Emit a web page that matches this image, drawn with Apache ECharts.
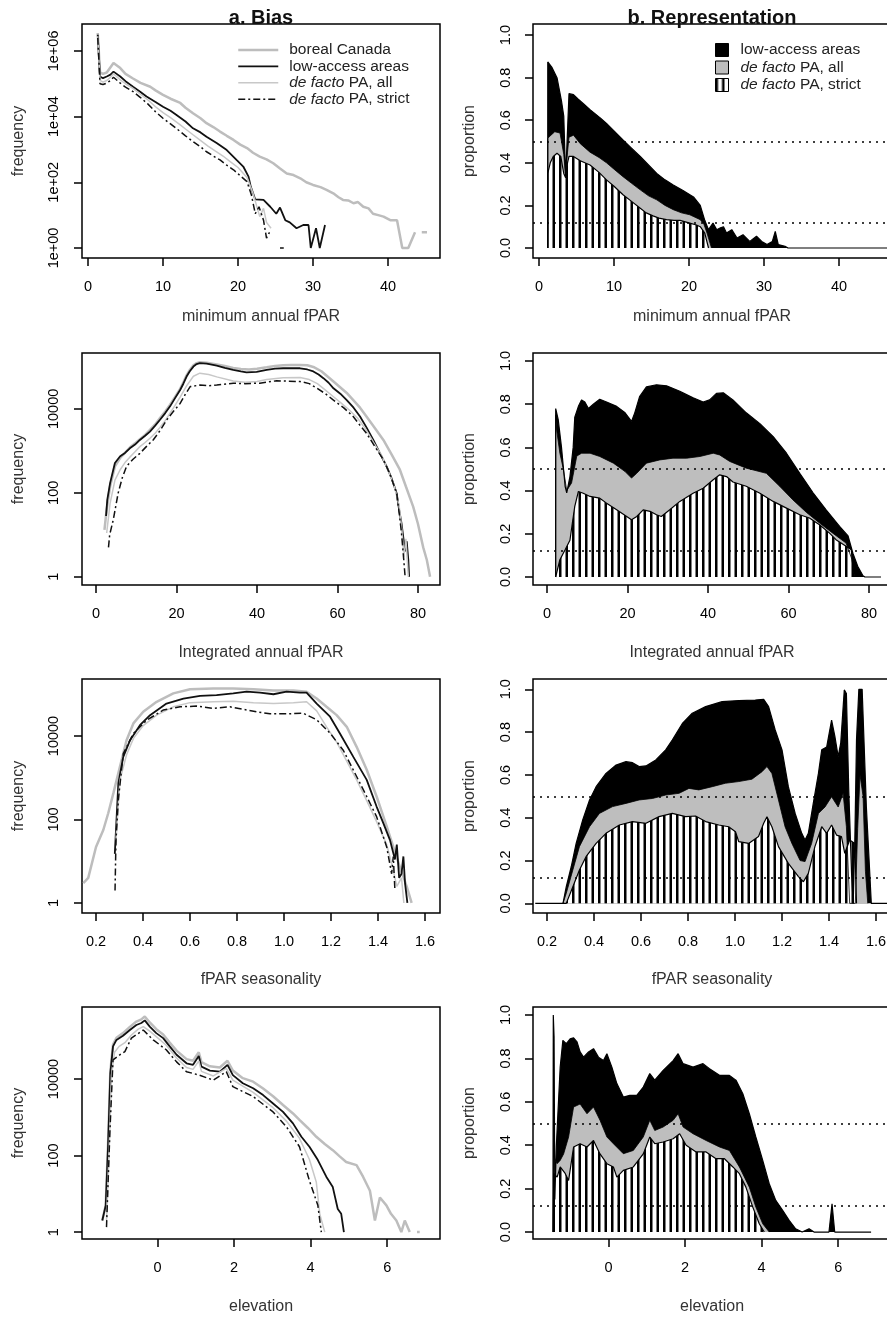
<!DOCTYPE html>
<html><head><meta charset="utf-8">
<script src="https://cdn.jsdelivr.net/npm/echarts@6/dist/echarts.min.js"></script>
<style>html,body{margin:0;padding:0;background:#fff}#chart{width:887px;height:1317px}</style>
</head><body><div id="chart"></div>
<script>
// ---------------- text ----------------
const seriesNames = ['boreal Canada', 'low-access areas', 'de facto PA, all', 'de facto PA, strict'];
const columnTitles = ['a. Bias', 'b. Representation'];
const xTitles = ['minimum annual fPAR', 'Integrated annual fPAR', 'fPAR seasonality', 'elevation'];
const freqTitle = 'frequency';
const propTitle = 'proportion';

// ---------------- tick values ----------------
const xTicksMin = [0, 10, 20, 30, 40];
const xTicksInt = [0, 20, 40, 60, 80];
const xTicksSeas = [0.2, 0.4, 0.6, 0.8, 1.0, 1.2, 1.4, 1.6];
const xTicksElev = [0, 2, 4, 6];
const freqTicksMin = [1, 100, 1e4, 1e6];
const freqTicks = [1, 100, 1e4];
const propTicks = [0, 0.2, 0.4, 0.6, 0.8, 1.0];
const refLevels = [0.5, 0.12];

// ---------------- a. frequencies (minimum annual fPAR) ----------------
const minFparBoreal = [[1.3,3.5e6],[1.6,2.2e5],[2.0,2.0e5],[2.5,2.2e5],[3.0,3.2e5],[3.4,4.3e5],[4.3,3.0e5],[5.0,2.0e5],[6.0,1.45e5],[7.0,1.07e5],[8.3,8.1e4],[9.0,6.3e4],[10.0,4.6e4],[11.0,3.5e4],[12.3,2.6e4],[13.0,1.86e4],[14.0,1.26e4],[15.0,8.9e3],[15.8,6.3e3],[16.7,4.8e3],[17.6,3.5e3],[18.5,2.6e3],[19.4,1.95e3],[20.3,1.4e3],[21.2,1.1e3],[22.0,794],[22.9,603],[23.8,501],[24.7,380],[25.6,263],[26.5,186],[27.4,166],[28.3,132],[29.1,100],[30.0,83],[31.0,71],[31.8,59],[32.7,46],[33.4,35],[34.0,29],[34.7,28],[35.4,23],[36.0,25],[36.7,18],[37.4,16],[38.0,11],[38.7,10],[39.4,9],[40.3,7],[41.2,7],[41.9,1],[42.7,1],[43.6,3],[44.0,null],[44.5,3],[45.2,3]];
const minFparLow = [[1.3,3.1e6],[1.6,1.66e5],[2.0,1.48e5],[2.5,1.66e5],[3.0,1.9e5],[3.4,2.34e5],[4.3,1.66e5],[5.0,1.2e5],[6.0,8.1e4],[7.0,5.6e4],[7.8,4.1e4],[9.0,2.8e4],[10.0,2.0e4],[11.0,1.5e4],[11.8,1.12e4],[13.0,7.1e3],[14.0,4.4e3],[15.0,3.3e3],[15.8,2.45e3],[17.2,1.55e3],[18.5,955],[19.8,479],[20.7,302],[21.4,148],[21.7,74],[22.3,30],[23.4,29],[24.3,18],[25.1,11],[25.6,17],[26.3,7],[26.9,6],[27.8,4],[28.7,5],[29.4,5],[29.7,1],[30.4,4],[30.9,1],[31.6,5]];
const minFparPaAll = [[1.3,2.8e6],[1.6,1.26e5],[2.0,1.12e5],[2.5,1.26e5],[3.0,1.58e5],[3.4,2.0e5],[4.3,1.32e5],[5.0,1.0e5],[6.0,7.2e4],[7.0,4.8e4],[8.0,3.2e4],[9.0,2.0e4],[10.0,1.32e4],[11.0,9.3e3],[12.3,5.6e3],[13.0,4.2e3],[14.0,2.8e3],[14.9,1.95e3],[16.0,1.26e3],[17.0,891],[18.0,631],[19.0,417],[20.0,282],[21.2,141],[22.0,46],[22.9,9],[23.4,16],[23.8,6],[24.4,4]];
const minFparStrict = [[1.3,2.5e6],[1.6,1.0e5],[2.0,9.5e4],[2.5,1.05e5],[3.0,1.26e5],[3.4,1.58e5],[4.3,1.05e5],[5.0,7.9e4],[6.0,5.8e4],[7.0,3.8e4],[8.0,2.4e4],[9.0,1.41e4],[10.0,8.9e3],[11.0,6.0e3],[12.3,3.5e3],[13.0,2.6e3],[14.0,1.74e3],[15.0,1.2e3],[15.8,851],[16.7,631],[17.6,479],[18.5,331],[19.4,240],[20.3,158],[21.2,105],[21.8,40],[22.3,11],[22.8,18],[23.4,7],[23.8,2],[24.2,3],[24.6,null],[25.6,1],[26.1,1]];

// ---------------- b. proportions (minimum annual fPAR) ----------------
const minFparShareLow = [[1.16,0],[1.17,0.874],[1.7,0.85],[2.4,0.80],[3.0,0.69],[3.3,0.62],[3.55,0.33],[3.8,0.55],[4.0,0.725],[4.6,0.72],[5.2,0.70],[6.0,0.675],[6.8,0.65],[7.5,0.63],[8.2,0.61],[9.0,0.585],[10.0,0.55],[11.2,0.507],[12.3,0.47],[13.5,0.43],[14.6,0.39],[15.7,0.35],[16.8,0.32],[17.9,0.296],[19.2,0.27],[20.6,0.24],[21.5,0.20],[22.1,0.13],[22.6,0.086],[23.2,0.117],[23.7,0.086],[24.2,0.095],[24.6,0.10],[25.0,0.07],[25.7,0.086],[26.4,0.047],[27.2,0.062],[28.1,0.031],[29.0,0.055],[29.7,0.031],[30.4,0.016],[31.1,0.03],[31.5,0.078],[31.9,0.016],[32.8,0.008],[33.2,0],[47,0]];
const minFparShareAll = [[1.16,0],[1.17,0.515],[1.6,0.53],[2.1,0.546],[2.8,0.54],[3.3,0.44],[3.55,0.335],[3.8,0.45],[4.0,0.52],[4.6,0.53],[5.5,0.49],[6.8,0.45],[8.0,0.425],[9.0,0.40],[10.0,0.37],[11.2,0.335],[12.3,0.305],[13.5,0.273],[14.6,0.245],[15.7,0.226],[16.8,0.20],[17.9,0.18],[19.0,0.165],[20.1,0.156],[21.5,0.133],[22.0,0.11],[22.4,0.07],[23.0,0]];
const minFparShareStrict = [[1.16,0],[1.17,0.35],[1.5,0.40],[1.9,0.43],[2.4,0.445],[2.9,0.43],[3.3,0.35],[3.55,0.33],[3.8,0.40],[4.0,0.43],[4.6,0.43],[5.5,0.41],[6.8,0.39],[8.0,0.355],[9.0,0.32],[10.0,0.29],[11.2,0.25],[12.3,0.22],[13.5,0.187],[14.3,0.165],[15.2,0.151],[16.0,0.14],[17.0,0.133],[18.0,0.13],[18.8,0.13],[20.1,0.117],[21.0,0.108],[21.5,0.10],[22.1,0.07],[22.6,0]];

// ---------------- a. frequencies (integrated annual fPAR) ----------------
const intFparBoreal = [[2.1,13],[2.65,40],[3.5,141],[4.7,427],[6.0,676],[7.2,891],[8.4,1200],[9.7,1510],[10.9,1905],[12.2,2400],[13.4,3160],[14.7,4270],[15.9,6030],[17.2,8710],[18.4,1.26e4],[19.6,1.9e4],[20.9,3.0e4],[21.7,4.3e4],[22.5,6.3e4],[23.3,8.5e4],[24.2,1.1e5],[25.0,1.23e5],[25.8,1.29e5],[27.5,1.26e5],[30,1.15e5],[32,1.05e5],[34.1,9.5e4],[36,8.9e4],[38,8.7e4],[40,9.1e4],[42.4,9.8e4],[44.5,1.05e5],[46.5,1.1e5],[48.5,1.12e5],[50.7,1.12e5],[52.5,1.1e5],[54,1.0e5],[56,7.9e4],[59,4.5e4],[62.3,2.4e4],[65.6,1.07e4],[67.2,6600],[69,3800],[71.4,1820],[73.5,800],[75.5,355],[77,141],[78.8,47],[80,18],[81.3,5],[82.2,2.5],[83,1]];
const intFparLow = [[2.5,28],[2.8,68],[3.5,170],[4.7,513],[6.0,741],[7.2,891],[8.4,1150],[9.7,1410],[10.9,1820],[12.2,2290],[13.4,2880],[14.7,3980],[15.9,5500],[17.2,7940],[18.4,1.15e4],[19.6,1.78e4],[20.9,2.82e4],[21.7,3.98e4],[22.5,5.9e4],[23.3,7.9e4],[24.2,1.02e5],[25.0,1.17e5],[25.8,1.23e5],[27.5,1.2e5],[30,1.07e5],[32,9.5e4],[34.1,8.5e4],[36,7.8e4],[37.4,7.4e4],[39.9,7.6e4],[42.4,8.5e4],[44.5,9.1e4],[46.5,9.3e4],[48.5,9.3e4],[50.7,9.3e4],[52.5,8.7e4],[54,7.8e4],[55.3,6.6e4],[56.5,5.4e4],[57.8,4.2e4],[59,3.1e4],[60.7,2.3e4],[62.3,1.62e4],[64,1.07e4],[65.6,6600],[67.2,3630],[68.9,1820],[70.5,891],[72.2,427],[73.5,214],[74.7,98],[75.3,40],[75.9,19],[76.4,8],[76.8,4],[77.2,7],[77.6,2.5],[77.8,1]];
const intFparPaAll = [[2.65,11],[3.5,56],[4.7,200],[6.0,355],[7.2,525],[8.4,708],[9.7,955],[10.9,1260],[12.2,1580],[13.4,2000],[14.7,2630],[15.9,3630],[17.2,5250],[18.4,7940],[19.6,1.2e4],[20.9,1.9e4],[22.5,3.55e4],[24.2,6.0e4],[25.8,7.1e4],[28,6.6e4],[30,5.8e4],[34.1,4.6e4],[37,4.3e4],[40,4.5e4],[42.4,5.0e4],[46.5,5.5e4],[50.7,5.6e4],[53,5.0e4],[55,4.0e4],[57,2.8e4],[59,1.95e4],[61,1.35e4],[63,9300],[65,6000],[67,3300],[69,1580],[71,760],[72.5,355],[74,158],[75.3,50],[76,13],[76.5,3],[77,8],[77.4,2],[77.6,1]];
const intFparStrict = [[3.1,5],[3.4,10],[4.3,23],[5.5,98],[6.5,224],[7.6,427],[9.2,631],[10.9,871],[12.5,1260],[14.2,1820],[15.9,3020],[17.6,5500],[19.3,8900],[20.9,1.35e4],[22.2,2.24e4],[23.4,3.4e4],[25.8,3.7e4],[28,3.55e4],[30,3.7e4],[34.1,4.1e4],[37,4.0e4],[40.7,4.1e4],[44.9,4.7e4],[47,4.6e4],[50.7,4.5e4],[53,4.0e4],[54.9,3.1e4],[57,2.3e4],[59,1.62e4],[61.5,1.07e4],[63.9,6600],[65.5,4170],[67.2,2630],[69.3,1260],[71.4,617],[73,282],[74.7,98],[75.3,35],[75.9,11],[76.4,3],[76.8,1]];

// ---------------- b. proportions (integrated annual fPAR) ----------------
const intFparShareLow = [[2.15,0],[2.16,0.78],[2.8,0.727],[3.6,0.60],[4.5,0.42],[4.9,0.39],[5.7,0.465],[6.5,0.60],[6.9,0.74],[7.8,0.79],[8.6,0.82],[9.4,0.81],[10.3,0.78],[11.5,0.80],[13.1,0.823],[14.8,0.81],[17.3,0.79],[19.4,0.76],[21.0,0.72],[21.8,0.76],[23.0,0.835],[24.7,0.88],[27.2,0.89],[29.7,0.885],[33.0,0.86],[36.3,0.83],[38.8,0.81],[40.4,0.82],[42.1,0.85],[43.8,0.853],[46.2,0.82],[49.5,0.76],[52.9,0.71],[56.2,0.65],[59.5,0.573],[62.8,0.48],[66.1,0.39],[69.4,0.31],[72.7,0.234],[74.8,0.19],[76.0,0.11],[77.2,0.05],[78.5,0.006],[79,0],[83,0]];
const intFparShareAll = [[2.15,0],[2.16,0.75],[2.4,0.68],[3.2,0.573],[4.1,0.496],[4.9,0.40],[6.1,0.435],[7.4,0.56],[8.6,0.573],[10.7,0.573],[13.1,0.558],[16.5,0.527],[19.4,0.488],[21.0,0.458],[22.3,0.48],[24.7,0.527],[28.0,0.542],[31.3,0.55],[34.7,0.55],[38.0,0.558],[41.3,0.573],[42.9,0.565],[45.4,0.535],[49.5,0.504],[54.5,0.48],[57.8,0.42],[61.1,0.357],[64.4,0.30],[67.7,0.25],[71.0,0.203],[74.3,0.157],[75.8,0.08],[76.4,0]];
const intFparShareStrict = [[2.15,0],[3.2,0.08],[4.5,0.126],[5.7,0.17],[6.3,0.25],[6.9,0.327],[7.8,0.396],[9.0,0.388],[10.7,0.373],[13.1,0.365],[14.8,0.342],[17.3,0.311],[19.8,0.28],[21.0,0.265],[22.3,0.28],[23.9,0.311],[25.6,0.304],[27.2,0.288],[28.4,0.28],[30.5,0.311],[33.0,0.35],[36.3,0.388],[38.8,0.411],[41.3,0.45],[42.9,0.473],[44.6,0.465],[46.2,0.44],[49.5,0.42],[52.9,0.388],[56.2,0.35],[59.5,0.319],[62.8,0.288],[65.2,0.273],[67.7,0.242],[70.2,0.203],[71.8,0.173],[74.3,0.142],[75.6,0.126],[76.0,0.05],[76.4,0]];

// ---------------- a. frequencies (fPAR seasonality) ----------------
const seasBoreal = [[0.146,3],[0.167,4],[0.2,22],[0.231,56],[0.252,141],[0.274,427],[0.302,1860],[0.33,7940],[0.359,2.0e4],[0.401,3.8e4],[0.458,6.6e4],[0.529,1.05e5],[0.6,1.32e5],[0.699,1.38e5],[0.784,1.38e5],[0.87,1.32e5],[0.955,1.23e5],[1.04,1.23e5],[1.096,1.15e5],[1.139,7.9e4],[1.181,5.0e4],[1.224,3.16e4],[1.267,1.66e4],[1.309,5500],[1.352,1550],[1.394,355],[1.437,68],[1.465,22],[1.494,7],[1.522,2.5],[1.543,1]];
const seasLow = [[0.28,15],[0.295,741],[0.316,3160],[0.345,7940],[0.387,1.82e4],[0.43,3.16e4],[0.5,6.0e4],[0.572,7.9e4],[0.643,9.1e4],[0.713,9.5e4],[0.784,1.05e5],[0.841,1.15e5],[0.898,1.1e5],[0.955,1.0e5],[1.011,1.15e5],[1.068,1.1e5],[1.096,1.1e5],[1.139,6.0e4],[1.196,2.9e4],[1.238,1.15e4],[1.295,3160],[1.352,891],[1.394,204],[1.423,81],[1.451,32],[1.472,11],[1.48,25],[1.49,4],[1.5,5],[1.508,13],[1.515,3],[1.525,1]];
const seasPaAll = [[0.285,32],[0.302,891],[0.33,3550],[0.36,8900],[0.401,1.78e4],[0.458,3.16e4],[0.529,5.0e4],[0.6,6.3e4],[0.7,6.6e4],[0.784,6.8e4],[0.87,6.3e4],[0.955,6.0e4],[1.04,6.3e4],[1.096,6.6e4],[1.139,4.0e4],[1.181,1.66e4],[1.224,7100],[1.267,2500],[1.309,891],[1.352,282],[1.394,89],[1.437,25],[1.46,8],[1.48,2.5],[1.5,4],[1.51,1]];
const seasStrict = [[0.281,2],[0.285,32],[0.295,295],[0.316,3800],[0.359,1.15e4],[0.416,2.4e4],[0.487,4.2e4],[0.558,5.0e4],[0.628,5.2e4],[0.699,4.6e4],[0.77,5.0e4],[0.883,3.8e4],[0.94,3.4e4],[1.011,3.4e4],[1.082,3.5e4],[1.139,2.45e4],[1.196,1.17e4],[1.252,4570],[1.309,1070],[1.352,355],[1.394,117],[1.437,22],[1.458,5],[1.465,13],[1.472,2]];

// ---------------- b. proportions (fPAR seasonality) ----------------
const seasShareLow = [[0.15,0],[0.268,0],[0.282,0.078],[0.303,0.171],[0.324,0.28],[0.352,0.39],[0.381,0.483],[0.409,0.545],[0.451,0.607],[0.494,0.646],[0.536,0.662],[0.564,0.657],[0.592,0.639],[0.621,0.642],[0.663,0.67],[0.705,0.717],[0.733,0.763],[0.776,0.84],[0.818,0.888],[0.875,0.919],[0.945,0.942],[1.016,0.947],[1.086,0.95],[1.122,0.953],[1.143,0.919],[1.171,0.81],[1.2,0.717],[1.227,0.545],[1.256,0.42],[1.284,0.327],[1.298,0.296],[1.312,0.327],[1.333,0.467],[1.355,0.607],[1.369,0.717],[1.39,0.73],[1.411,0.856],[1.425,0.78],[1.439,0.685],[1.45,0.75],[1.465,0.997],[1.474,0.98],[1.484,0.53],[1.496,0.14],[1.503,0],[1.51,0.3],[1.517,0.763],[1.527,1.0],[1.541,1.0],[1.559,0.45],[1.58,0],[1.67,0]];
const seasShareAll = [[0.268,0],[0.282,0.047],[0.31,0.156],[0.338,0.265],[0.381,0.358],[0.423,0.42],[0.479,0.452],[0.536,0.467],[0.592,0.483],[0.649,0.49],[0.705,0.506],[0.762,0.514],[0.804,0.537],[0.846,0.53],[0.903,0.545],[0.959,0.561],[1.016,0.569],[1.072,0.58],[1.115,0.615],[1.136,0.639],[1.157,0.607],[1.185,0.483],[1.213,0.358],[1.242,0.28],[1.277,0.2],[1.298,0.195],[1.326,0.28],[1.355,0.42],[1.383,0.45],[1.411,0.498],[1.439,0.45],[1.46,0.514],[1.474,0.358],[1.488,0],[1.512,0],[1.522,0.35],[1.532,0.6],[1.545,0.5],[1.555,0.15],[1.565,0]];
const seasShareStrict = [[0.268,0],[0.282,0],[0.31,0.078],[0.338,0.156],[0.366,0.218],[0.409,0.28],[0.451,0.327],[0.508,0.366],[0.564,0.382],[0.621,0.374],[0.677,0.405],[0.733,0.42],[0.79,0.405],[0.832,0.408],[0.875,0.382],[0.931,0.366],[0.973,0.358],[1.002,0.335],[1.016,0.288],[1.058,0.28],[1.1,0.312],[1.122,0.374],[1.136,0.405],[1.157,0.358],[1.185,0.265],[1.227,0.187],[1.27,0.125],[1.291,0.101],[1.312,0.14],[1.34,0.265],[1.369,0.358],[1.39,0.327],[1.411,0.366],[1.432,0.319],[1.453,0.312],[1.467,0.234],[1.488,0.296],[1.51,0.28],[1.517,0]];

// ---------------- a. frequencies (elevation) ----------------
const elevBoreal = [[-1.44,2],[-1.35,5],[-1.29,200],[-1.23,1.58e4],[-1.16,7.9e4],[-1.07,1.2e5],[-0.9,1.58e5],[-0.72,2.3e5],[-0.55,3.16e5],[-0.42,3.6e5],[-0.33,4.3e5],[-0.2,3.0e5],[-0.03,2.0e5],[0.15,1.45e5],[0.32,8.9e4],[0.5,5.5e4],[0.76,3.3e4],[0.93,3.0e4],[1.08,5.0e4],[1.15,2.75e4],[1.37,2.14e4],[1.63,2.0e4],[1.83,3.0e4],[1.97,1.66e4],[2.23,1.05e4],[2.5,8500],[2.76,5620],[3.02,3550],[3.28,2090],[3.54,1260],[3.71,851],[3.93,525],[4.15,309],[4.37,200],[4.58,138],[4.76,95],[4.93,68],[5.2,56],[5.37,28],[5.55,12],[5.68,2],[5.81,8],[5.98,5],[6.1,3],[6.24,2],[6.37,1],[6.46,2],[6.59,1],[6.65,null],[6.78,1],[6.85,1]];
const elevLow = [[-1.44,2],[-1.35,5],[-1.29,170],[-1.23,1.41e4],[-1.16,7.1e4],[-1.07,1.05e5],[-0.9,1.35e5],[-0.72,1.9e5],[-0.55,2.57e5],[-0.42,2.9e5],[-0.33,3.4e5],[-0.2,2.34e5],[-0.03,1.58e5],[0.15,1.17e5],[0.32,7.1e4],[0.5,4.3e4],[0.76,2.57e4],[0.93,2.34e4],[1.08,4.0e4],[1.15,2.1e4],[1.37,1.66e4],[1.63,1.55e4],[1.83,2.34e4],[1.97,1.26e4],[2.23,7760],[2.5,5750],[2.76,3800],[3.02,2290],[3.28,1380],[3.54,692],[3.76,309],[3.97,170],[4.19,76],[4.41,28],[4.58,15],[4.71,4],[4.8,3],[4.87,1]];
const elevPaAll = [[-1.33,2],[-1.26,158],[-1.2,1.26e4],[-1.12,5.0e4],[-1.0,7.1e4],[-0.85,8.9e4],[-0.68,1.41e5],[-0.5,2.0e5],[-0.37,2.34e5],[-0.2,1.78e5],[0.0,1.2e5],[0.23,7.6e4],[0.5,3.55e4],[0.76,2.0e4],[0.93,1.78e4],[1.08,2.95e4],[1.15,1.58e4],[1.46,1.2e4],[1.8,1.9e4],[1.97,9300],[2.5,4470],[3.02,1780],[3.37,794],[3.71,282],[3.97,79],[4.15,20],[4.24,3],[4.37,1]];
const elevStrict = [[-1.33,1.35],[-1.24,457],[-1.16,3.16e4],[-0.98,4.3e4],[-0.85,5.2e4],[-0.68,1.17e5],[-0.37,1.9e5],[-0.11,1.05e5],[0.23,5.8e4],[0.5,2.8e4],[0.76,1.55e4],[1.1,1.26e4],[1.46,9300],[1.8,1.55e4],[1.97,6300],[2.5,3470],[3.02,1380],[3.37,562],[3.71,170],[3.97,22],[4.19,5],[4.28,1]];

// ---------------- b. proportions (elevation) ----------------
const elevShareLow = [[-1.45,0],[-1.44,1.0],[-1.42,0.9],[-1.40,0.15],[-1.36,0.4],[-1.32,0.545],[-1.26,0.76],[-1.19,0.883],[-1.1,0.868],[-1.0,0.89],[-0.91,0.895],[-0.82,0.876],[-0.74,0.83],[-0.65,0.806],[-0.52,0.83],[-0.39,0.845],[-0.26,0.806],[-0.13,0.79],[-0.04,0.822],[0.09,0.76],[0.22,0.684],[0.39,0.622],[0.56,0.63],[0.74,0.63],[0.91,0.668],[1.08,0.73],[1.21,0.70],[1.43,0.745],[1.69,0.79],[1.82,0.822],[1.95,0.776],[2.21,0.76],[2.47,0.776],[2.64,0.753],[2.9,0.722],[3.16,0.722],[3.33,0.70],[3.51,0.637],[3.68,0.545],[3.85,0.438],[4.03,0.33],[4.2,0.223],[4.37,0.146],[4.55,0.10],[4.72,0.054],[4.89,0.015],[5.06,0],[5.24,0.015],[5.37,0],[5.76,0],[5.84,0.13],[5.91,0],[6.86,0]];
const elevShareAll = [[-1.44,0],[-1.43,0.35],[-1.34,0.315],[-1.26,0.33],[-1.17,0.36],[-1.04,0.438],[-0.91,0.576],[-0.74,0.59],[-0.56,0.545],[-0.39,0.576],[-0.22,0.515],[-0.04,0.438],[0.13,0.407],[0.39,0.361],[0.65,0.376],[0.91,0.438],[1.08,0.515],[1.21,0.468],[1.43,0.484],[1.69,0.515],[1.82,0.545],[1.95,0.484],[2.21,0.453],[2.55,0.422],[2.9,0.392],[3.16,0.376],[3.42,0.30],[3.68,0.207],[3.85,0.115],[4.03,0.038],[4.2,0]];
const elevShareStrict = [[-1.44,0],[-1.43,0.27],[-1.34,0.253],[-1.26,0.30],[-1.13,0.27],[-1.04,0.238],[-0.91,0.392],[-0.74,0.407],[-0.56,0.392],[-0.39,0.422],[-0.22,0.36],[-0.04,0.315],[0.13,0.30],[0.22,0.253],[0.39,0.284],[0.65,0.30],[0.91,0.36],[1.08,0.438],[1.21,0.407],[1.43,0.415],[1.69,0.43],[1.86,0.453],[2.03,0.40],[2.29,0.369],[2.55,0.369],[2.81,0.338],[3.03,0.338],[3.25,0.30],[3.42,0.269],[3.59,0.207],[3.77,0.115],[3.94,0.038],[4.07,0]];

// ---------------- layout & styles ----------------
const FONT = '"Liberation Sans", Arial, Helvetica, sans-serif';
const layout = {
  leftX: 82, rightX: 533, width: 358,
  tops: [24, 353, 679, 1007], heights: [234, 232, 234, 232],
  xNameGap: [51, 60, 59, 60]
};
const fmtSci = v => '1e+' + String(Math.round(Math.log10(v))).padStart(2, '0');
const fmtInt = v => String(Math.round(v));
const fmtOne = v => v.toFixed(1);

const panels = [
  { xMin: -0.8, xMax: 46.93, xTicks: xTicksMin, xFmt: fmtInt, fMin: 0.495, fMax: 6.6e6, fTicks: freqTicksMin, fFmt: fmtSci, pMin: -0.047, pMax: 1.052,
    lines: [minFparBoreal, minFparLow, minFparPaAll, minFparStrict], areas: [minFparShareLow, minFparShareAll, minFparShareStrict] },
  { xMin: -3.48, xMax: 85.47, xTicks: xTicksInt, xFmt: fmtInt, fMin: 0.634, fMax: 2.15e5, fTicks: freqTicks, fFmt: fmtInt, pMin: -0.037, pMax: 1.037,
    lines: [intFparBoreal, intFparLow, intFparPaAll, intFparStrict], areas: [intFparShareLow, intFparShareAll, intFparShareStrict] },
  { xMin: 0.1404, xMax: 1.6638, xTicks: xTicksSeas, xFmt: fmtOne, fMin: 0.575, fMax: 2.32e5, fTicks: freqTicks, fFmt: fmtInt, pMin: -0.045, pMax: 1.048,
    lines: [seasBoreal, seasLow, seasPaAll, seasStrict], areas: [seasShareLow, seasShareAll, seasShareStrict] },
  { xMin: -1.97, xMax: 7.38, xTicks: xTicksElev, xFmt: fmtInt, fMin: 0.66, fMax: 7.6e5, fTicks: freqTicks, fFmt: fmtInt, pMin: -0.032, pMax: 1.037,
    lines: [elevBoreal, elevLow, elevPaAll, elevStrict], areas: [elevShareLow, elevShareAll, elevShareStrict] }
];

// vertical hatching (period ~6.5 px, bars ~2.5 px)
const hatchCanvas = (() => {
  const c = document.createElement('canvas'); c.width = 13; c.height = 4;
  const g = c.getContext('2d');
  g.fillStyle = '#fff'; g.fillRect(0, 0, 13, 4);
  g.fillStyle = '#000'; g.fillRect(0, 0, 2.5, 4); g.fillRect(6.5, 0, 2.5, 4);
  return c;
})();
const hatchFill = { image: hatchCanvas, repeat: 'repeat' };

const lineStyles = [
  { color: '#bdbdbd', width: 2.5 },
  { color: '#111', width: 1.8 },
  { color: '#c8c8c8', width: 1.5 },
  { color: '#111', width: 1.5, type: [7, 3, 2, 3] }
];
const areaFills = ['#000', '#bebebe', hatchFill];
const areaLineWidths = [1.2, 0.8, 1.2];

const tickLabel = { fontFamily: FONT, fontSize: 14.5, color: '#000' };
const nameStyle = { fontFamily: FONT, fontSize: 16, color: '#333' };

function makeX(gridIndex, p, i) {
  return {
    type: 'value', gridIndex, min: p.xMin, max: p.xMax,
    name: xTitles[i], nameLocation: 'middle', nameGap: layout.xNameGap[i], nameTextStyle: nameStyle,
    axisLine: { show: false, onZero: false }, splitLine: { show: false },
    axisTick: { show: true, customValues: p.xTicks, length: 8, lineStyle: { color: '#000', width: 1.5 } },
    axisLabel: Object.assign({ customValues: p.xTicks, formatter: p.xFmt, margin: 21 }, tickLabel)
  };
}
function makeY(gridIndex, type, min, max, ticks, fmt, name, margin) {
  const ax = {
    type, gridIndex, min, max,
    name, nameLocation: 'middle', nameGap: 55, nameTextStyle: nameStyle,
    axisLine: { show: false, onZero: false }, splitLine: { show: false },
    axisTick: { show: true, customValues: ticks, length: 8, lineStyle: { color: '#000', width: 1.5 } },
    axisLabel: Object.assign({ customValues: ticks, formatter: fmt, rotate: 90, margin }, tickLabel)
  };
  if (type === 'log') ax.logBase = 10;
  return ax;
}

const grids = [], xAxes = [], yAxes = [], series = [];
panels.forEach((p, i) => {
  [layout.leftX, layout.rightX].forEach((left, side) => {
    grids.push({ left, top: layout.tops[i], width: layout.width, height: layout.heights[i],
      show: true, borderColor: '#000', borderWidth: 1.5, backgroundColor: 'transparent', outerBoundsMode: 'none' });
    xAxes.push(makeX(2 * i + side, p, i));
  });
  yAxes.push(makeY(2 * i, 'log', p.fMin, p.fMax, p.fTicks, p.fFmt, freqTitle, 21));
  yAxes.push(makeY(2 * i + 1, 'value', p.pMin, p.pMax, propTicks, fmtOne, propTitle, 20));

  p.lines.forEach((data, k) => series.push({
    name: seriesNames[k], type: 'line', xAxisIndex: 2 * i, yAxisIndex: 2 * i, data,
    symbol: 'none', showSymbol: false, connectNulls: false, color: lineStyles[k].color,
    lineStyle: lineStyles[k], z: 2, silent: true, animation: false
  }));
  p.areas.forEach((data, k) => {
    const s = {
      name: seriesNames[k + 1], type: 'line', xAxisIndex: 2 * i + 1, yAxisIndex: 2 * i + 1, data,
      symbol: 'none', showSymbol: false, color: '#000',
      lineStyle: { color: '#000', width: areaLineWidths[k] },
      areaStyle: { color: areaFills[k], opacity: 1 }, z: 2, silent: true, animation: false
    };
    if (k === 2) {
      s.markLine = { silent: true, symbol: ['none', 'none'], label: { show: false }, animation: false,
        lineStyle: { color: '#000', type: [2, 5], width: 1.5 },
        data: refLevels.map(v => ({ yAxis: v })) };
    }
    series.push(s);
  });
});

const legendText = { fontFamily: FONT, fontSize: 15.5, color: '#222',
  rich: { i: { fontFamily: FONT, fontSize: 15.5, color: '#222', fontStyle: 'italic' } } };
const fmtLegend = n => n.indexOf('de facto') === 0 ? '{i|de facto}' + n.slice(8) : n;

const option = {
  animation: false,
  backgroundColor: '#fff',
  grid: grids, xAxis: xAxes, yAxis: yAxes, series,
  legend: [
    { data: seriesNames.map(n => ({ name: n, itemStyle: { opacity: 0 } })),
      orient: 'vertical', left: 237, top: 41.8, itemWidth: 40, itemHeight: 12, itemGap: 0, padding: 0,
      selectedMode: false, lineStyle: { width: 'inherit' }, formatter: fmtLegend,
      textStyle: Object.assign({ lineHeight: 16.4, padding: [0, 0, 0, 6] }, legendText,
        { rich: { i: Object.assign({ lineHeight: 16.4 }, legendText.rich.i) } }) },
    { data: [
        { name: seriesNames[1], icon: 'rect', itemStyle: { color: '#000', borderColor: '#000', borderWidth: 1, opacity: 1 } },
        { name: seriesNames[2], icon: 'rect', itemStyle: { color: '#bebebe', borderColor: '#000', borderWidth: 1, opacity: 1 } },
        { name: seriesNames[3], icon: 'rect', itemStyle: { color: hatchFill, borderColor: '#000', borderWidth: 1, opacity: 1 } }
      ],
      orient: 'vertical', left: 715, top: 41.25, itemWidth: 13, itemHeight: 13, itemGap: 0, padding: 0,
      selectedMode: false, formatter: fmtLegend,
      textStyle: Object.assign({ lineHeight: 17.5, padding: [0, 0, 0, 7] }, legendText,
        { rich: { i: Object.assign({ lineHeight: 17.5 }, legendText.rich.i) } }) }
  ],
  graphic: [
    { type: 'text', x: 261, y: 28, z: 10, style: { text: columnTitles[0], font: 'bold 20px ' + FONT, fill: '#111', align: 'center', textAlign: 'center', verticalAlign: 'bottom', textVerticalAlign: 'bottom' } },
    { type: 'text', x: 712, y: 28, z: 10, style: { text: columnTitles[1], font: 'bold 20px ' + FONT, fill: '#111', align: 'center', textAlign: 'center', verticalAlign: 'bottom', textVerticalAlign: 'bottom' } }
  ]
};

const chart = echarts.init(document.getElementById('chart'), null, { renderer: 'canvas' });
chart.setOption(option);
</script>
</body></html>
